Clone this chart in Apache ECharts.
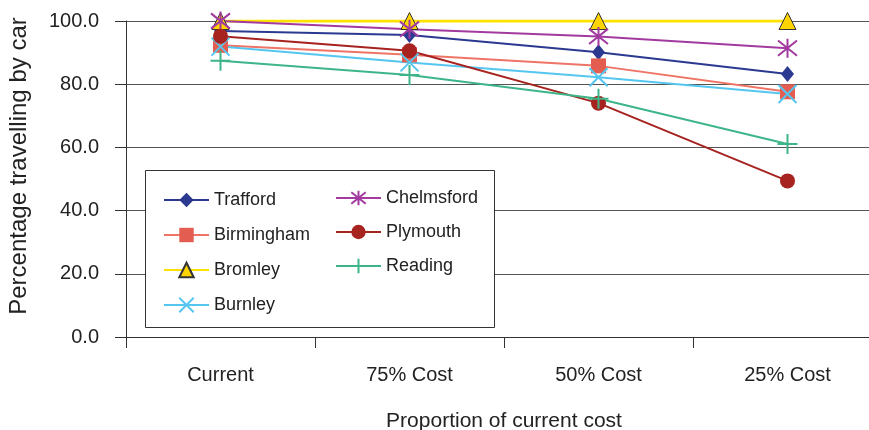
<!DOCTYPE html>
<html>
<head>
<meta charset="utf-8">
<script src="https://cdn.jsdelivr.net/npm/echarts@6/dist/echarts.min.js"></script>
<style>
  html, body { margin: 0; padding: 0; background: #ffffff; }
  #chart { width: 869px; height: 430px; }
</style>
</head>
<body>
<div id="chart"></div>
<script>
// Cost scenarios along the x axis
const categories = ['Current', '75% Cost', '50% Cost', '25% Cost'];

// Percentage travelling by car in each town
const trafford   = [96.8, 95.6, 90.1, 83.2];
const birmingham = [92.3, 89.3, 85.8, 77.6];
const bromley    = [100.0, 100.0, 100.0, 100.0];
const burnley    = [91.9, 86.9, 82.2, 76.9];
const chelmsford = [100.0, 97.4, 95.1, 91.4];
const plymouth   = [95.2, 90.6, 74.0, 49.4];
const reading    = [87.4, 82.9, 75.4, 61.1];

const yTicks = [0, 20, 40, 60, 80, 100];

const FONT = '"Liberation Sans", Arial, Helvetica, sans-serif';

const SYM_X = 'path://M1,1L9,9M9,1L1,9';
const SYM_STAR = 'path://M1,1L9,9M9,1L1,9M5,0L5,10';
const SYM_PLUS = 'path://M5,0L5,10M0,5L10,5';

function lineSeries(name, data, opt) {
  return {
    name: name,
    type: 'line',
    data: data,
    symbol: opt.symbol,
    symbolSize: opt.size,
    showSymbol: true,
    animation: false,
    z: opt.z || 2,
    lineStyle: { color: opt.line, width: opt.width || 2 },
    itemStyle: {
      color: opt.fill,
      borderColor: opt.border || opt.fill,
      borderWidth: opt.borderWidth || 0
    }
  };
}

const series = [
  lineSeries('Trafford', trafford, { symbol: 'diamond', size: [13, 16], line: '#2b3990', fill: '#2b3990' }),
  lineSeries('Birmingham', birmingham, { symbol: 'rect', size: 15, line: '#ee7466', fill: '#e35e50' }),
  lineSeries('Bromley', bromley, { symbol: 'triangle', size: 17, line: '#ffe100', width: 3, fill: '#ffd400', border: '#333333', borderWidth: 1 }),
  lineSeries('Burnley', burnley, { symbol: SYM_X, size: 18, line: '#55c6ef', fill: '#55c6ef', borderWidth: 2 }),
  lineSeries('Chelmsford', chelmsford, { symbol: SYM_STAR, size: 19, line: '#a23a9f', fill: '#a23a9f', borderWidth: 2 }),
  lineSeries('Plymouth', plymouth, { symbol: 'circle', size: 15, line: '#a6231f', fill: '#a6231f' }),
  lineSeries('Reading', reading, { symbol: SYM_PLUS, size: 20, line: '#3db589', fill: '#3db589', borderWidth: 2 })
];

const legendText = { fontFamily: FONT, fontSize: 18, color: '#222222', lineHeight: 18 };

const option = {
  backgroundColor: '#ffffff',
  animation: false,
  grid: { left: 126, top: 21, width: 756, height: 316, containLabel: false, outerBoundsMode: 'none' },
  legend: [
    {
      data: ['Trafford', 'Birmingham', 'Bromley', 'Burnley'],
      orient: 'vertical',
      left: 158,
      top: 186,
      itemWidth: 45,
      itemHeight: 18,
      itemGap: 17,
      textStyle: legendText,
      selectedMode: false
    },
    {
      data: ['Chelmsford', 'Plymouth', 'Reading'],
      orient: 'vertical',
      left: 330,
      top: 184,
      itemWidth: 45,
      itemHeight: 18,
      itemGap: 16,
      textStyle: legendText,
      selectedMode: false
    }
  ],
  graphic: [
    {
      type: 'rect',
      left: 145,
      top: 170,
      shape: { width: 349, height: 157 },
      style: { fill: '#ffffff', stroke: '#333333', lineWidth: 1 },
      z: 5
    }
  ],
  xAxis: {
    type: 'category',
    data: categories,
    boundaryGap: true,
    name: 'Proportion of current cost',
    nameLocation: 'middle',
    nameGap: 74,
    nameTextStyle: { fontFamily: FONT, fontSize: 21, color: '#222222' },
    axisLine: { lineStyle: { color: '#333333', width: 1 } },
    axisTick: { show: true, length: 11, lineStyle: { color: '#333333' } },
    axisLabel: { fontFamily: FONT, fontSize: 20, color: '#222222', margin: 28 },
    splitLine: { show: false }
  },
  yAxis: {
    type: 'value',
    min: yTicks[0],
    max: yTicks[yTicks.length - 1],
    interval: 20,
    name: 'Percentage travelling by car',
    nameLocation: 'middle',
    nameRotate: 90,
    nameGap: 95,
    nameTextStyle: { fontFamily: FONT, fontSize: 24, color: '#222222', padding: [0, 0, 0, 26] },
    axisLine: { show: true, lineStyle: { color: '#333333', width: 1 } },
    axisTick: { show: true, length: 11, lineStyle: { color: '#333333' } },
    axisLabel: {
      fontFamily: FONT, fontSize: 20, color: '#222222', margin: 27,
      formatter: function (v) { return v.toFixed(1); }
    },
    splitLine: { show: true, lineStyle: { color: '#555555', width: 1 } }
  },
  series: series
};

// legends sit above the framed box
option.legend.forEach(function (l) { l.z = 6; });

const chart = echarts.init(document.getElementById('chart'), null, { renderer: 'canvas' });
chart.setOption(option);
</script>
</body>
</html>
